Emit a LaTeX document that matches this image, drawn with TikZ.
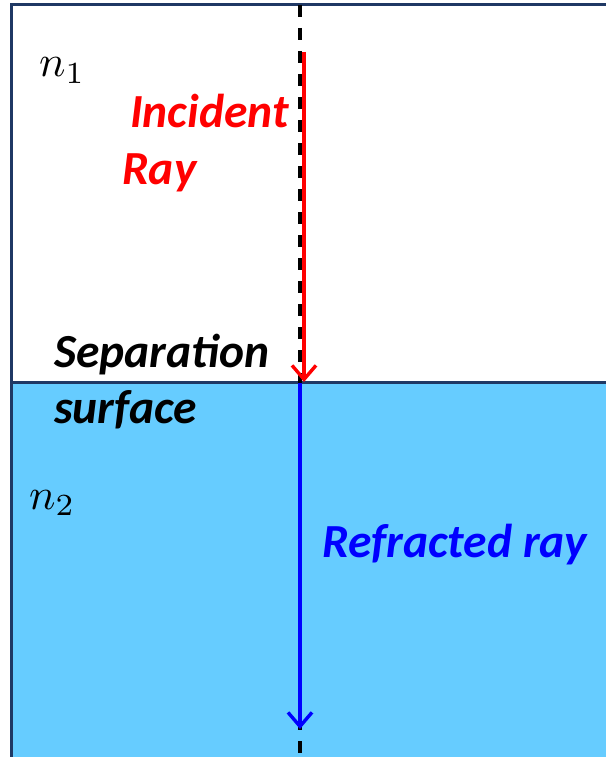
\documentclass[tikz,border=0pt]{standalone}
\usepackage{fontspec}
\setsansfont{Carlito}
\usetikzlibrary{arrows.meta}
\definecolor{water}{HTML}{66CCFF}
\definecolor{frame}{HTML}{1F3864}
\definecolor{rayred}{HTML}{FF0000}
\definecolor{rayblue}{HTML}{0000FF}
\tikzset{
  lbl/.style={inner sep=0pt, anchor=base west, font=\sffamily\bfseries\itshape\fontsize{47.5}{56}\selectfont},
  idx/.style={inner sep=0pt, anchor=base west},
  framelines/.style={draw=frame, line width=3pt},
  normal/.style={draw=black, line width=3.4pt, dash pattern=on 12pt off 11pt},
  ray/.style={line width=3.4pt, -{Straight Barb[length=14pt, width=24pt, line width=3.4pt]}}
}
\begin{document}
\begin{tikzpicture}[x=1pt, y=-1pt]
\useasboundingbox (0,0) rectangle (606,757);
% water
\fill[water] (12,382) rectangle (606,757);
% frame
\coordinate (tl) at (11.5,5);
\coordinate (tr) at (606,5);
\coordinate (bl) at (11.5,757);
\coordinate (sl) at (11.5,382.5);
\coordinate (sr) at (606,382.5);
\draw[framelines] (bl) -- (tl) -- (tr);
\draw[framelines] (sl) -- (sr);
% normal
\coordinate (ntop) at (300,5);
\coordinate (nbot) at (300,757);
\draw[normal] (ntop) -- (nbot);
% rays
\coordinate (istart) at (304,52);
\coordinate (ihit) at (304,382);
\coordinate (rstart) at (300,383);
\coordinate (rend) at (300,729);
\draw[ray, rayred] (istart) -- (ihit);
\draw[ray, rayblue] (rstart) -- (rend);
% labels
\node[idx] (n1) at (39,77) {\scalebox{4.4}{$n_1$}};
\node[idx] (n2) at (29,509) {\scalebox{4.4}{$n_2$}};
\node[lbl, text=rayred] (inc) at (130,128) {Incident};
\node[lbl, text=rayred] (ray) at (122,184) {Ray};
\node[lbl] (sep) at (54,367) {Separation};
\node[lbl] (surf) at (54,423) {surface};
\node[lbl, text=rayblue] (refr) at (322,557) {Refracted ray};
\end{tikzpicture}
\end{document}
